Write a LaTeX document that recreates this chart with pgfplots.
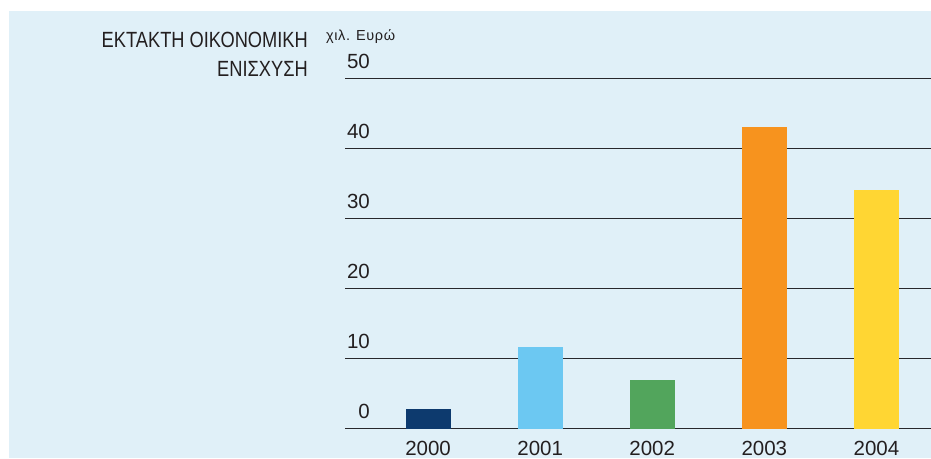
\documentclass[border=0pt]{standalone}
\usepackage{fontspec}
\setmainfont{Liberation Sans}
\newfontfamily\condfont[FakeStretch=0.83]{Liberation Sans}
\newfontfamily\unitfont[LetterSpace=4]{Liberation Sans}
\usepackage{pgfplots}
\pgfplotsset{compat=1.18}
\definecolor{bg}{RGB}{224,240,248}
\definecolor{txt}{RGB}{35,31,32}
\definecolor{gridc}{RGB}{40,40,44}
\definecolor{c0}{RGB}{13,58,110}
\definecolor{c1}{RGB}{108,200,242}
\definecolor{c2}{RGB}{82,165,92}
\definecolor{c3}{RGB}{247,147,30}
\definecolor{c4}{RGB}{255,214,51}
\begin{document}
\begin{tikzpicture}[x=1pt,y=1pt]
\path[use as bounding box] (0,0) rectangle (931,458);
\fill[bg] (9,0) rectangle (931,447);
\node[anchor=base east, font=\condfont\fontsize{22}{26}\selectfont, text=txt, inner sep=0pt] at (308,410) {ΕΚΤΑΚΤΗ ΟΙΚΟΝΟΜΙΚΗ};
\node[anchor=base east, font=\condfont\fontsize{22}{26}\selectfont, text=txt, inner sep=0pt] at (308,381.5) {ΕΝΙΣΧΥΣΗ};
\node[anchor=base west, font=\unitfont\fontsize{14.5}{17}\selectfont, text=txt, inner sep=0pt] at (326,417) {χιλ. Ευρώ};
\begin{axis}[
  at={(345pt,29.5pt)}, anchor=south west,
  scale only axis, width=586pt, height=350pt,
  xmin=-0.741, xmax=4.487, ymin=0, ymax=50,
  ytick={0,10,20,30,40,50},
  xtick={0,1,2,3,4},
  xticklabels={2000,2001,2002,2003,2004},
  ymajorgrids,
  grid style={line width=1.4pt, color=gridc},
  axis line style={draw=none},
  major tick length=0pt,
  tick style={draw=none},
  /pgf/number format/assume math mode=true,
  /pgf/number format/1000 sep={},
  tick label style={font=\fontsize{20.5}{24}\selectfont, text=txt, inner sep=0pt},
  yticklabel style={anchor=base east, xshift=25pt, yshift=10pt},
  xticklabel style={anchor=base, yshift=-26.5pt},
  clip=false,
]
\addplot[ybar, bar width=45pt, bar shift=0pt, fill=c0, draw=none] coordinates {(0,2.8)};
\addplot[ybar, bar width=45pt, bar shift=0pt, fill=c1, draw=none] coordinates {(1,11.6)};
\addplot[ybar, bar width=45pt, bar shift=0pt, fill=c2, draw=none] coordinates {(2,7.0)};
\addplot[ybar, bar width=45pt, bar shift=0pt, fill=c3, draw=none] coordinates {(3,43.0)};
\addplot[ybar, bar width=45pt, bar shift=0pt, fill=c4, draw=none] coordinates {(4,34.1)};
\end{axis}
\end{tikzpicture}
\end{document}
